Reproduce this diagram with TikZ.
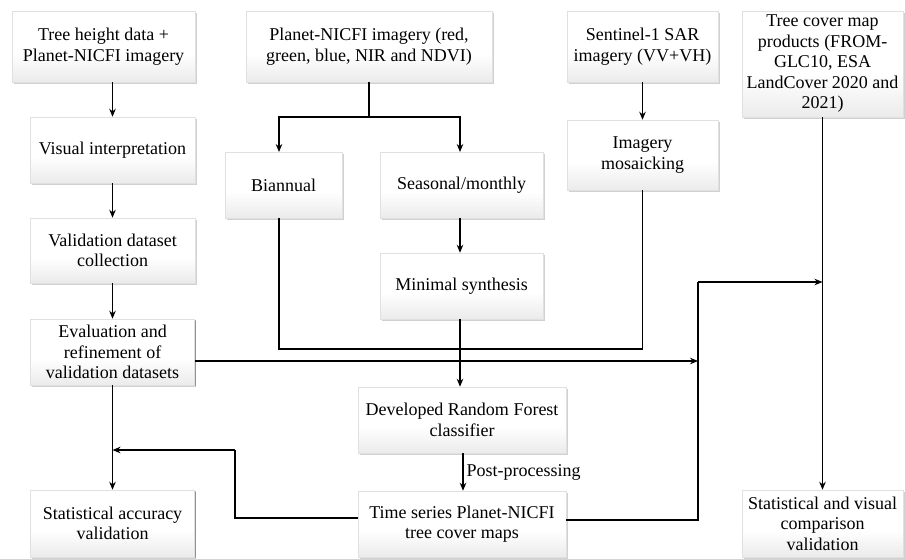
\documentclass[tikz,border=0pt]{standalone}
\usepackage{fontspec}
\setmainfont{Liberation Serif}
\usetikzlibrary{shadows,arrows.meta}
\pgfdeclareverticalshading{boxshade}{100bp}{color(0bp)=(black!16); color(12bp)=(black!13); color(45bp)=(white); color(100bp)=(white)}
\begin{document}
\begin{tikzpicture}[x=1pt,y=-1pt,
  box/.style={draw=black!12, line width=0.5pt, shading=boxshade,
    drop shadow={shadow xshift=1.6pt,shadow yshift=-2pt,fill=black,opacity=0.18},
    drop shadow={shadow xshift=1pt,shadow yshift=-1.2pt,fill=black,opacity=0.3},
    align=center, inner sep=2pt, font=\fontsize{18}{20.5}\selectfont},
  conn/.style={line width=1.3pt, draw=black},
  arr/.style={conn, -{Stealth[length=8pt,width=6.5pt]}},
  lbl/.style={font=\fontsize{18}{20.5}\selectfont}
]
\useasboundingbox (0,0) rectangle (905,558);
\fill[white] (0,0) rectangle (905,558);

\node[box, minimum width=183pt, minimum height=71pt] (b1) at (103.5,46.5) {Tree height data +\\Planet-NICFI imagery};
\node[box, minimum width=246pt, minimum height=71pt] (b2) at (369,46.5) {Planet-NICFI imagery (red,\\green, blue, NIR and NDVI)};
\node[box, minimum width=151pt, minimum height=71pt] (b3) at (642.5,46.5) {Sentinel-1 SAR\\imagery (VV+VH)};
\node[box, minimum width=161pt, minimum height=106pt] (b4) at (822.5,64) {Tree cover map\\products (FROM-\\GLC10, ESA\\LandCover 2020 and\\2021)};

\node[box, minimum width=165pt, minimum height=66pt] (vi) at (112.5,150) {Visual interpretation};
\node[box, minimum width=165pt, minimum height=65pt] (vd) at (112.5,250.5) {Validation dataset\\collection};
\node[box, minimum width=164pt, minimum height=66pt] (ev) at (112.5,352) {Evaluation and\\refinement of\\validation datasets};
\node[box, minimum width=164pt, minimum height=67pt] (sa) at (112.5,523.5) {Statistical accuracy\\validation};

\node[box, minimum width=117pt, minimum height=66pt] (bi) at (283.5,185) {Biannual};
\node[box, minimum width=163pt, minimum height=66pt] (se) at (461.5,185) {Seasonal/monthly};
\node[box, minimum width=163pt, minimum height=66pt] (ms) at (461.5,286) {Minimal synthesis};
\node[box, minimum width=151pt, minimum height=70pt] (im) at (642.5,155) {Imagery\\mosaicking};

\node[box, minimum width=208pt, minimum height=66pt] (rf) at (462,420) {Developed Random Forest\\classifier};
\node[box, minimum width=208pt, minimum height=66pt] (ts) at (462,524) {Time series Planet-NICFI\\tree cover maps};
\node[box, minimum width=161pt, minimum height=67pt] (sv) at (822.5,523.5) {Statistical and visual\\comparison\\validation};

% left column
\draw[arr] (b1.south -| vi.north) -- (vi.north);
\draw[arr] (vi.south) -- (vd.north);
\draw[arr] (vd.south) -- (ev.north);
\draw[arr] (ev.south) -- (sa.north);

% Planet split
\coordinate (split) at (369,117);
\draw[conn] (b2.south) -- (split);
\draw[arr] (split) -| (279,152);
\draw[arr] (split) -| (460,152);
\draw[arr] (se.south -| 460,0) -- (ms.north -| 460,0);

% Sentinel
\draw[arr] (b3.south) -- (im.north);

% merge into RF
\coordinate (bij) at (279,349);
\coordinate (imj) at (642.5,349);
\draw[conn] (bi.south -| bij) -- (bij) -- (imj) -- (im.south);
\draw[arr] (ms.south -| 460,0) -- (rf.north -| 460,0);

% post-processing
\draw[arr] (rf.south -| 463,0) -- node[lbl, right, inner sep=3pt] {Post-processing} (ts.north -| 463,0);

% evaluation to hub
\coordinate (hubmid) at (698,361);
\draw[arr] (ev.east |- hubmid) -- (hubmid);

% time series to hub and to comparison line
\coordinate (hubbot) at (698,520);
\coordinate (hubtop) at (698,282);
\coordinate (cmp) at (822.5,282);
\draw[conn] (ts.east |- hubbot) -- (hubbot) -- (hubtop);
\draw[arr] (hubtop) -- (cmp);

% tree cover products to comparison
\draw[arr] (b4.south) -- (sv.north);

% time series to accuracy validation
\coordinate (tl) at (235,518);
\coordinate (tu) at (235,450);
\coordinate (sj) at (112.5,450);
\draw[conn] (ts.west |- tl) -- (tl) -- (tu);
\draw[arr] (tu) -- (sj);
\end{tikzpicture}
\end{document}
